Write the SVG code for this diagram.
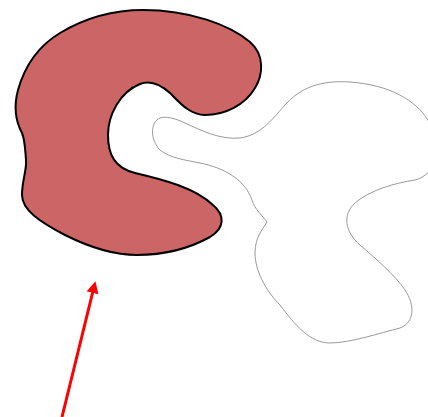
<svg xmlns="http://www.w3.org/2000/svg" width="428" height="417" viewBox="0 0 428 417">
<style>
.blob{fill:#cc6666;stroke:#000;stroke-width:2}
.outline{fill:none;stroke:#999;stroke-width:1}
.arrow{stroke:#ff0000;stroke-width:3;fill:none}
</style>
<defs>
<marker id="ah" markerWidth="4" markerHeight="4" refX="2" refY="2" orient="auto" markerUnits="strokeWidth">
<path d="M0,0 L4,2 L0,4 Z" fill="#ff0000"/>
</marker>
</defs>
<rect width="428" height="417" fill="#fff"/>
<g id="red-shape">
<path class="blob" d="M 143,10 C 190,10 230,25 250,42 C 265,55 263,75 255,88 C 245,105 225,115 205,115 C 190,115 180,103 170,93 C 160,84 150,80 140,84 C 120,92 108,115 108,135 C 108,155 115,168 135,173 C 165,180 195,188 213,205 C 225,215 225,228 210,237 C 190,248 165,255 137,255 C 110,255 85,245 65,235 C 40,222 22,210 22,195 C 22,180 27,170 26,160 C 25,148 25,140 22,133 C 15,120 14,105 18,90 C 25,65 40,45 60,33 C 85,18 115,10 143,10 Z"/>
</g>
<g id="outline-shape">
<path class="outline" d="M 160,118 C 150,122 150,140 160,150 C 170,158 185,160 200,163 C 225,168 245,180 252,200 C 255,210 262,215 267,222 C 262,230 255,238 255,253 C 255,270 265,290 280,305 C 295,325 310,343 330,343 C 350,343 380,333 400,328 C 415,322 415,305 405,290 C 395,275 375,258 360,245 C 345,232 342,215 355,203 C 370,190 395,183 415,180 C 435,175 445,150 428,120 C 415,100 390,85 350,82 C 320,80 300,88 285,105 C 270,122 260,135 240,138 C 220,140 200,130 185,123 C 175,118 165,116 160,118 Z"/>
</g>
<g id="connectors">
<line class="arrow" x1="62" y1="417" x2="94" y2="287" marker-end="url(#ah)"/>
</g>
</svg>
